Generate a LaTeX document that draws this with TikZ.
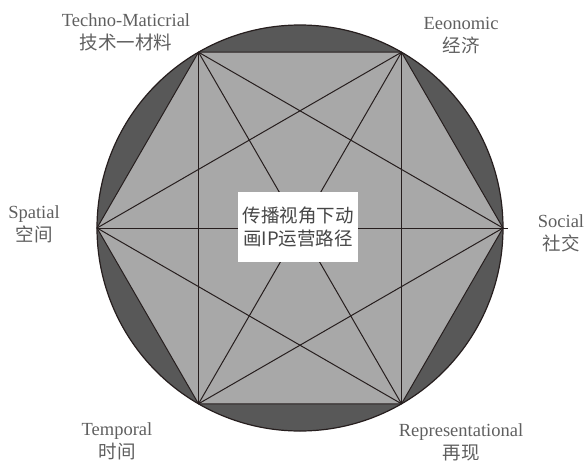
\documentclass[tikz,border=0pt]{standalone}
\usepackage{fontspec}
\setmainfont{Liberation Serif}
\newfontfamily\cjk{Noto Sans CJK SC}
\definecolor{ringgray}{RGB}{88,88,88}
\definecolor{hexgray}{RGB}{168,168,168}
\definecolor{linecol}{RGB}{38,30,30}
\definecolor{txtgray}{RGB}{95,95,95}
\definecolor{boxtxt}{RGB}{70,70,70}
\begin{document}
\begin{tikzpicture}[x=1pt,y=-1pt,
  lbl/.style={align=center,text=txtgray,font=\fontsize{18.5}{23}\selectfont,inner sep=0pt},
  diag/.style={draw=linecol,line width=1pt},
  centerbox/.style={fill=white,draw=none,align=center,text=boxtxt,minimum width=120pt,minimum height=70pt,inner sep=0pt,font=\cjk\fontsize{18.5}{23}\selectfont}]
\useasboundingbox (0,0) rectangle (585,461);
\coordinate (O) at (300,228);
\fill[ringgray,draw=linecol,line width=1.2pt] (O) circle [radius=203pt];
\coordinate (v0) at (503,228);
\coordinate (v1) at (401.5,52.2);
\coordinate (v2) at (198.5,52.2);
\coordinate (v3) at (97,228);
\coordinate (v4) at (198.5,403.8);
\coordinate (v5) at (401.5,403.8);
\coordinate (v0x) at (508,228);
\filldraw[fill=hexgray,draw=linecol,line width=1pt] (v0) -- (v1) -- (v2) -- (v3) -- (v4) -- (v5) -- cycle;
\draw[diag] (v3) -- (v0x);
\draw[diag] (v1) -- (v4);
\draw[diag] (v2) -- (v5);
\draw[diag] (v0) -- (v2);
\draw[diag] (v0) -- (v4);
\draw[diag] (v1) -- (v3);
\draw[diag] (v1) -- (v5);
\draw[diag] (v2) -- (v4);
\draw[diag] (v3) -- (v5);
\node[centerbox] (c) at (298,227) {传播视角下动\\画IP运营路径};
\node[lbl] (l2) at (126,32) {Techno-Maticrial\\{\cjk 技术一材料}};
\node[lbl] (l1) at (461,36) {Eeonomic\\{\cjk 经济}};
\node[lbl] (l3) at (34,224) {Spatial\\{\cjk 空间}};
\node[lbl] (l0) at (561,233) {Social\\{\cjk 社交}};
\node[lbl] (l4) at (117,441) {Temporal\\{\cjk 时间}};
\node[lbl] (l5) at (461,442) {Representational\\{\cjk 再现}};
\end{tikzpicture}
\end{document}
